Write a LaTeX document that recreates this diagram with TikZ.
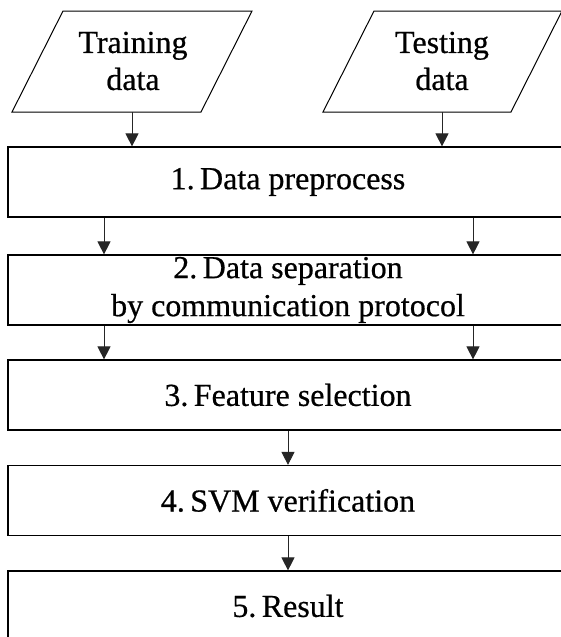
\documentclass[tikz,border=0pt]{standalone}
\usepackage{fontspec}
\setmainfont[FakeBold=0.6]{Liberation Serif}
\usetikzlibrary{arrows.meta,calc}
\newcommand{\numsp}{\kern0.17em}
\begin{document}
\begin{tikzpicture}[x=1pt,y=-1pt,
  txt/.style={font=\fontsize{32}{37}\selectfont, align=center, inner sep=0pt},
  stepbox/.style={draw=black, line width=1.2pt, minimum width=560pt, minimum height=70pt, inner sep=0pt, font=\fontsize{32}{38}\selectfont, align=center},
  databox/.style={draw=black, line width=1pt},
  arr/.style={draw=black!85, line width=1pt, -{Triangle[length=13pt,width=13pt]}}]
\useasboundingbox (0,0) rectangle (561,637);
\clip (0,0) rectangle (561,637);
% input parallelograms
\draw[databox] (12,112) -- (63,11) -- (252,11) -- (201,112) -- cycle;
\draw[databox] (323,112) -- (374,11) -- (562,11) -- (511,112) -- cycle;
\node[txt] (train) at (133,61) {Training\\data};
\node[txt] (test) at (442,61) {Testing\\data};
\coordinate (trainout) at (132,112);
\coordinate (testout) at (442,112);
% steps
\node[stepbox] (b1) at (288,182) {1.\numsp Data preprocess};
\node[stepbox] (b2) at (288,290) {2.\numsp Data separation\\by communication protocol};
\node[stepbox] (b3) at (288,395) {3.\numsp Feature selection};
\node[stepbox] (b4) at (288,500.5) {4.\numsp SVM verification};
\node[stepbox] (b5) at (288,606) {5.\numsp Result};
% connectors
\draw[arr] (trainout) -- (trainout |- b1.north);
\draw[arr] (testout) -- (testout |- b1.north);
\draw[arr] ([xshift=-184pt]b1.south) -- ([xshift=-184pt]b2.north);
\draw[arr] ([xshift=185pt]b1.south) -- ([xshift=185pt]b2.north);
\draw[arr] ([xshift=-184pt]b2.south) -- ([xshift=-184pt]b3.north);
\draw[arr] ([xshift=185pt]b2.south) -- ([xshift=185pt]b3.north);
\draw[arr] (b3.south) -- (b4.north);
\draw[arr] (b4.south) -- (b5.north);
\end{tikzpicture}
\end{document}
